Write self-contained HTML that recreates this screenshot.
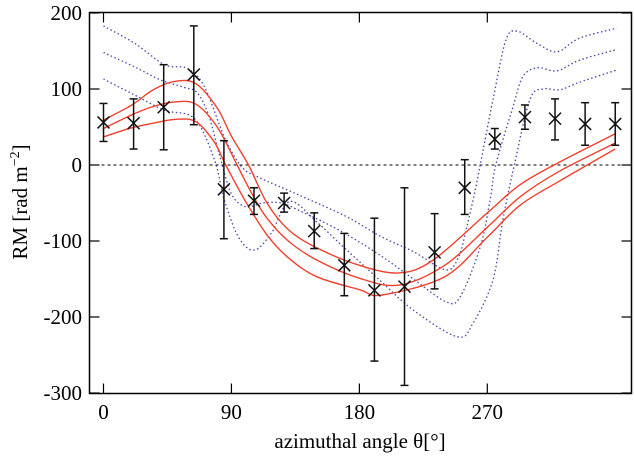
<!DOCTYPE html>
<html><head><meta charset="utf-8">
<style>
html,body{margin:0;padding:0;background:#fff;}
svg{display:block;}
text{font-family:"Liberation Serif",serif;fill:#000;}
</style></head>
<body>
<svg id="chart" width="634" height="462" viewBox="0 0 634 462" xmlns="http://www.w3.org/2000/svg">
<g id="axes"></g>
<g id="curves"></g>
<g id="points"></g>
<text x="360" y="448" font-size="21" text-anchor="middle">azimuthal angle θ[°]</text>
<text transform="translate(27,202) rotate(-90)" font-size="21" text-anchor="middle">RM [rad m<tspan dy="-8" font-size="14">−2</tspan><tspan dy="8">]</tspan></text>
</svg>
<script>
const xTicks = [0, 90, 180, 270];
const yTicks = [200, 100, 0, -100, -200, -300];
const yTickLabels = ["200", "100", "0", "-100", "-200", "-300"];
const obsTheta = [0,21.18,42.35,63.53,84.71,105.88,127.06,148.24,169.41,190.59,211.76,232.94,254.12,275.29,296.47,317.65,338.82,360];
const obsRM =   [56,55,76,119,-32,-47,-50,-87,-132,-165,-160,-115,-30,34,63,61,54,54];
const obsHigh = [81,87,132,183,32,-30,-37,-63,-90,-70,-30,-64,7,48,79,87,82,82];
const obsLow =  [31,21,20,53,-97,-65,-62,-110,-172,-258,-290,-163,-65,21,47,33,26,26];

const redUpperTheta = [0,20,35,50,65,80,90,102,115,130,150,180,208,232,270,293,320,360];
const redUpperRM =    [59,79,99,110,107,75,38,0,-50,-85,-109,-132,-142,-125,-63,-26,3,41];
const redMidTheta = [0,20,35,50,65,80,94,105,115,130,150,180,208,240,270,293,320,360];
const redMidRM =    [48,66,77,83,80,50,0,-40,-70,-100,-125,-149,-158,-132,-82,-42,-9,29];
const redLowTheta = [0,20,35,50,65,78,86,100,115,130,150,180,196,240,270,293,320,360];
const redLowRM =    [37,49,55,60,57,30,0,-48,-92,-122,-147,-164,-171,-147,-95,-53,-22,21];

const dotTopTheta = [0,22,43,59,71,85,97,109,138,171,195,218,241,250,255,260,265,274,283,291,305,319,335,361];
const dotTopRM =    [183,160,132,127,103,37,-2,-16,-40,-68,-94,-114,-138,-120,-86,-46,0,86,164,176,160,149,167,180];
const dotMidTheta = [0,22,40,57,66,74,82,90,100,112,125,140,166,194,218,241,251,265,272,276,288,295,305,319,335,361];
const dotMidRM =    [148,129,112,102,95,65,10,-38,-55,-50,-50,-62,-86,-118,-150,-180,-173,-108,-46,0,76,116,128,124,138,152];
const dotLowTheta = [0,22,43,64,78,85,95,106,118,131,150,170,194,218,249,260,274,281,289,300,309,321,335,361];
const dotLowRM =    [113,92,72,61,7,-46,-95,-112,-90,-48,-75,-110,-151,-191,-226,-208,-151,-72,0,86,100,99,109,125];

const L=89.5, R=631.5, T=12.5, B=393.5;
const X = t => 103.5 + t*(487.3-103.5)/270;
const Y = v => 165 - v*0.76;
const NS='http://www.w3.org/2000/svg';
function mk(tag, attrs, parent){const e=document.createElementNS(NS,tag);for(const k in attrs)e.setAttribute(k,attrs[k]);parent.appendChild(e);return e;}

const axes=document.getElementById('axes');
const frame=mk('rect',{x:L,y:T,width:R-L,height:B-T,fill:'none',stroke:'#000','stroke-width':1.5},axes);


const zl=mk('line',{x1:L,x2:R,y1:Y(0),y2:Y(0),stroke:'#000','stroke-width':1,'stroke-dasharray':'3,3'},axes);


xTicks.forEach(t=>{
  const x=X(t);
  const a=mk('line',{x1:x,x2:x,y1:B,y2:B-10,stroke:'#000','stroke-width':1.2},axes);
  
  
  const b=mk('line',{x1:x,x2:x,y1:T,y2:T+10,stroke:'#000','stroke-width':1.2},axes);
  
  
  const tx=mk('text',{x:x,y:419,'font-size':21,'text-anchor':'middle'},axes);
  tx.textContent=String(t);
  
  
});
yTicks.forEach((v,i)=>{
  const y=Y(v);
  const a=mk('line',{x1:L,x2:L+10,y1:y,y2:y,stroke:'#000','stroke-width':1.2},axes);
  
  
  const b=mk('line',{x1:R,x2:R-10,y1:y,y2:y,stroke:'#000','stroke-width':1.2},axes);
  
  
  const tx=mk('text',{x:82,y:y+7,'font-size':21,'text-anchor':'end'},axes);
  tx.textContent=yTickLabels[i];
  
  
});

function pathFrom(ts, vs){
  const p=ts.map((t,i)=>[X(t),Y(vs[i])]);
  let d='M'+p[0][0].toFixed(1)+','+p[0][1].toFixed(1);
  for(let i=0;i<p.length-1;i++){
    const p0=p[Math.max(0,i-1)],p1=p[i],p2=p[i+1],p3=p[Math.min(p.length-1,i+2)];
    const c1=[p1[0]+(p2[0]-p0[0])/6,p1[1]+(p2[1]-p0[1])/6];
    const c2=[p2[0]-(p3[0]-p1[0])/6,p2[1]-(p3[1]-p1[1])/6];
    d+=' C'+c1.map(n=>n.toFixed(1)).join(',')+' '+c2.map(n=>n.toFixed(1)).join(',')+' '+p2.map(n=>n.toFixed(1)).join(',');
  }
  return d;
}
const cg=document.getElementById('curves');
const dotted=[[dotTopTheta,dotTopRM,'dotted-model-upper'],[dotMidTheta,dotMidRM,'dotted-model-mid'],[dotLowTheta,dotLowRM,'dotted-model-lower']];
dotted.forEach(([t,v,n])=>{
  const e=mk('path',{d:pathFrom(t,v),fill:'none',stroke:'#4a46a8','stroke-width':1.3,'stroke-dasharray':'1.5,2.5'},cg);
  
  
});
const reds=[[redUpperTheta,redUpperRM,'red-model-upper'],[redMidTheta,redMidRM,'red-model-mid'],[redLowTheta,redLowRM,'red-model-lower']];
reds.forEach(([t,v,n])=>{
  const e=mk('path',{d:pathFrom(t,v),fill:'none',stroke:'#f0412d','stroke-width':1.4},cg);
  
  
});

const pg=document.getElementById('points');
obsTheta.forEach((t,i)=>{
  const x=X(t), y=Y(obsRM[i]), yh=Y(obsHigh[i]), yl=Y(obsLow[i]);
  const g=mk('g',{},pg);
  
  
  const s={stroke:'#111','stroke-width':1.5};
  mk('line',Object.assign({x1:x,x2:x,y1:yh,y2:yl},s),g);
  mk('line',Object.assign({x1:x-4,x2:x+4,y1:yh,y2:yh},s),g);
  mk('line',Object.assign({x1:x-4,x2:x+4,y1:yl,y2:yl},s),g);
  mk('line',Object.assign({x1:x-6,x2:x+6,y1:y-6,y2:y+6},s),g);
  mk('line',Object.assign({x1:x-6,x2:x+6,y1:y+6,y2:y-6},s),g);
});
</script>
</body></html>
